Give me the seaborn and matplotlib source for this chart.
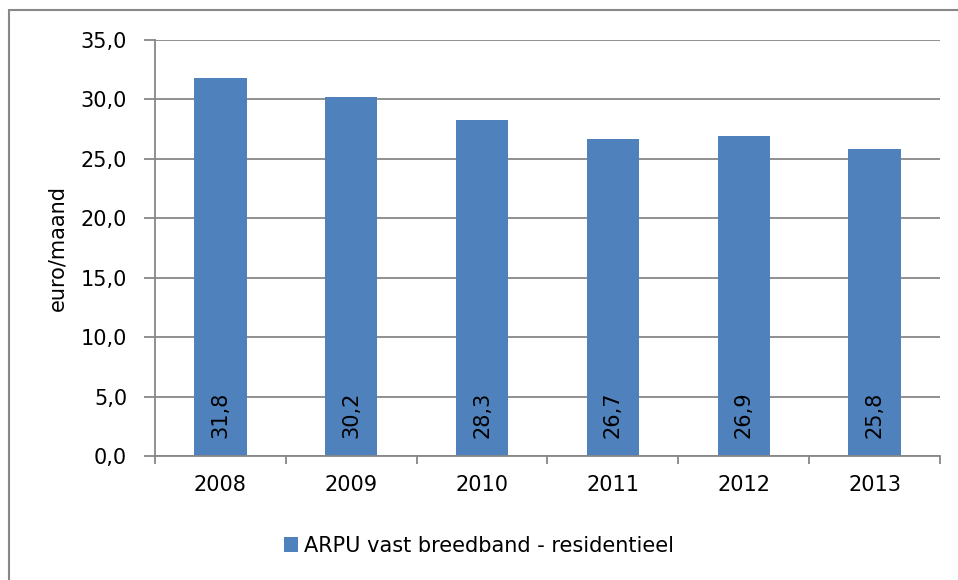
import numpy as np
import pandas as pd
from matplotlib import pyplot as plt
from matplotlib.lines import Line2D
from matplotlib.ticker import FuncFormatter
import seaborn as sns

# ARPU vaste breedband, residentieel (euro per maand)
jaren = ['2008', '2009', '2010', '2011', '2012', '2013']
arpu = [31.8, 30.2, 28.3, 26.7, 26.9, 25.8]
reeks = 'ARPU vast breedband - residentieel'

df = pd.DataFrame({'jaar': jaren, 'arpu': arpu})

sns.set_style('white')
plt.rcParams['font.family'] = ['DejaVu Sans']
plt.rcParams['text.color'] = 'black'
plt.rcParams['xtick.color'] = 'black'
plt.rcParams['ytick.color'] = 'black'
plt.rcParams['axes.labelcolor'] = 'black'

blauw = '#4F81BD'
grijs = '#878787'
fs = 15

fig = plt.figure(figsize=(9.58, 5.8), dpi=100)
ax = fig.add_axes([155/958, 1 - 456/580, (940-155)/958, (456-40)/580])

sns.barplot(data=df, x='jaar', y='arpu', color=blauw, width=0.4, saturation=1,
            linewidth=0, label=reeks, ax=ax, zorder=3)

ax.set_ylim(0, 35)
ax.set_yticks(np.arange(0, 35.1, 5))
ax.yaxis.set_major_formatter(FuncFormatter(lambda v, p: f'{v:.1f}'.replace('.', ',')))
ax.set_xlim(-0.5, len(jaren) - 0.5)
ax.grid(axis='y', color=grijs, lw=1.3, zorder=0)

# tick marks op de grenzen van de categorieen
ax.set_xticks(np.arange(len(jaren)))
ax.set_xticklabels(jaren)
ax.set_xticks(np.arange(-0.5, len(jaren)), minor=True)
ax.tick_params(axis='x', which='major', length=0, pad=14, labelsize=fs)
ax.tick_params(axis='x', which='minor', bottom=True, length=6, width=1.3,
               color=grijs, direction='out')
ax.tick_params(axis='y', left=True, length=8, width=1.3, color=grijs,
               direction='out', pad=12, labelsize=fs)

for s in ['top', 'right']:
    ax.spines[s].set_visible(False)
for s in ['left', 'bottom']:
    ax.spines[s].set_color(grijs)
    ax.spines[s].set_linewidth(1.3)
    ax.spines[s].set_zorder(4)

ax.set_xlabel('')
ax.set_ylabel('euro/maand', fontsize=fs, labelpad=10)

for i, v in enumerate(arpu):
    ax.text(i, 1.5, f'{v:.1f}'.replace('.', ','), rotation=90, ha='center', va='bottom',
            fontsize=fs, zorder=5)

h, l = ax.get_legend_handles_labels()
if ax.legend_:
    ax.legend_.remove()
fig.legend(h, l, loc='center', bbox_to_anchor=(0.5, 1 - 546/580), frameon=False,
           fontsize=fs, handlelength=0.7, handleheight=0.7, handletextpad=0.3)

# rand van het diagram (alleen links en boven zichtbaar)
fig.add_artist(Line2D([9/958, 9/958], [0, 1 - 10/580], color=grijs, lw=1.5))
fig.add_artist(Line2D([9/958, 1], [1 - 10/580, 1 - 10/580], color=grijs, lw=1.5))

plt.savefig('out.png', dpi=100)
